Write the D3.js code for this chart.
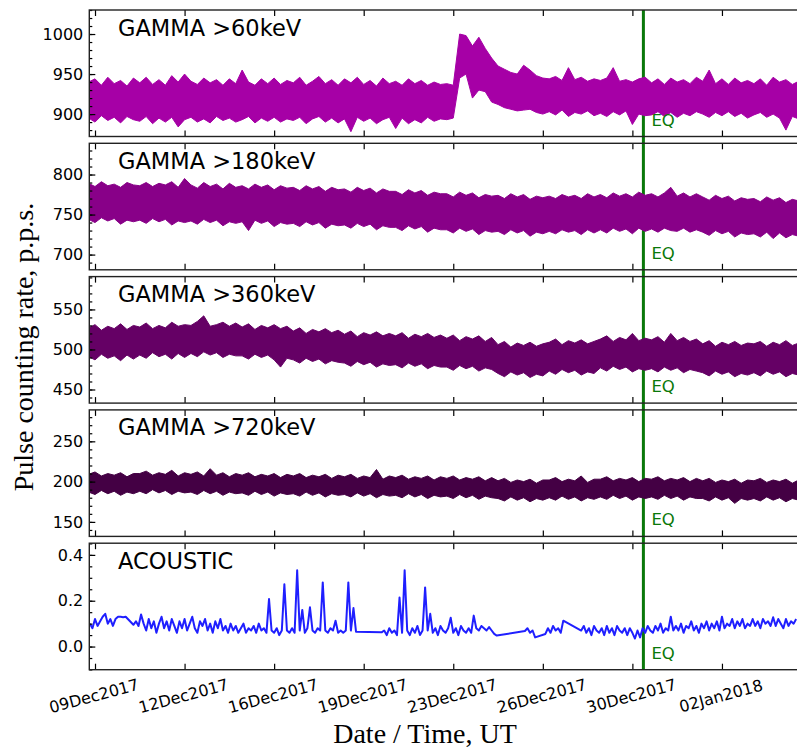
<!DOCTYPE html>
<html>
<head>
<meta charset="utf-8">
<script src="https://cdn.jsdelivr.net/npm/d3@7"></script>
<style>
body { margin: 0; background: #fff; }
svg text { font-family: "DejaVu Sans", sans-serif; }
</style>
</head>
<body>
<script>
const WIDTH = 797, HEIGHT = 751;
const LEFT = 89.3, RIGHT = 800;
const TOP = 10, PANEL_H = 126.5, GAP = 6.8;

// days are counted in December 2017 (1 = 01Dec, 32 = 01Jan2018)
const X_START = 8.777, X_END = 36.55;
const TICK_DAYS = [9, 12.5, 16, 19.5, 23, 26.5, 30, 33.5];
const TICK_LABELS = ['09Dec2017', '12Dec2017', '16Dec2017', '19Dec2017',
                     '23Dec2017', '26Dec2017', '30Dec2017', '02Jan2018'];
const EQ_DAY = 30.43;

// gamma envelopes (upper / lower edge of the band), one value every 6 hours from 08Dec 18:00
const GAMMA_START = 8.75, GAMMA_STEP = 0.25;

const G60_HI = [
  940, 944, 936, 946, 938, 942, 935, 945,
  939, 946, 937, 943, 936, 948, 940, 950,
  941, 937, 945, 939, 943, 936, 944, 938,
  955, 940, 936, 944, 938, 945, 937, 942,
  939, 946, 936, 941, 947, 938, 943, 936,
  944, 939, 946, 937, 942, 935, 945, 938,
  941, 936, 944, 938, 942, 936, 940, 937,
  938, 936, 1000, 998, 985, 996, 982, 970,
  960, 956, 952, 950, 961, 955, 948, 945,
  944, 947, 942, 958, 943, 946, 941, 944,
  942, 945, 958, 941, 943, 940, 944, 946,
  939, 944, 937, 945, 940, 943, 938, 946,
  941, 955, 938, 944, 937, 945, 939, 942,
  938, 944, 936, 946, 940, 943, 937, 941
];
const G60_LO = [
  895, 890, 898, 892, 896, 889, 897, 893,
  891, 897, 888, 895, 890, 896, 884, 893,
  896, 890, 894, 889, 897, 892, 895, 890,
  893, 897, 889, 895, 891, 896, 890, 894,
  892, 896, 888, 894, 897, 890, 895, 889,
  894, 878, 896, 891, 895, 888, 893, 896,
  882, 895, 888, 893, 889, 896, 891, 894,
  893, 895, 945, 950, 920, 930, 928, 915,
  912, 908, 906, 904, 905, 906, 902, 900,
  903, 899, 905, 897, 902, 900, 904, 898,
  901, 897, 903, 899, 904, 887, 900, 898,
  899, 903, 897, 902, 896, 901, 898, 903,
  900, 896, 902, 898, 903, 897, 901, 895,
  899, 902, 896, 900, 895, 880, 897, 894
];

const G180_HI = [
  789, 785, 791, 786, 788, 784, 790, 787,
  786, 790, 785, 789, 787, 791, 784, 795,
  787, 783, 790, 785, 788, 782, 789, 784,
  786, 782, 788, 784, 787, 781, 786, 783,
  784, 780, 786, 782, 785, 779, 784, 781,
  782, 778, 784, 780, 783, 777, 782, 779,
  779, 775, 781, 777, 780, 774, 778, 776,
  776, 772, 778, 774, 777, 771, 775, 773,
  774, 770, 776, 772, 775, 769, 773, 771,
  773, 770, 775, 772, 774, 770, 776, 772,
  775, 771, 777, 773, 776, 772, 778, 774,
  776, 772, 777, 784, 773, 777, 772, 776,
  772, 768, 774, 770, 773, 767, 771, 769,
  770, 766, 772, 768, 771, 765, 769, 767
];
const G180_LO = [
  744, 740, 746, 742, 745, 738, 743, 741,
  743, 739, 745, 741, 744, 737, 742, 740,
  742, 738, 744, 740, 743, 736, 741, 739,
  741, 730, 743, 739, 742, 735, 740, 738,
  739, 735, 741, 737, 740, 733, 738, 736,
  737, 733, 739, 735, 738, 731, 736, 734,
  734, 730, 736, 732, 735, 728, 733, 731,
  731, 727, 733, 729, 732, 725, 730, 728,
  729, 725, 731, 727, 730, 723, 728, 726,
  729, 726, 731, 728, 730, 725, 731, 727,
  731, 727, 733, 729, 732, 726, 733, 729,
  732, 728, 733, 730, 729, 733, 728, 731,
  728, 724, 730, 726, 729, 722, 727, 725,
  726, 722, 728, 720, 727, 721, 725, 723
];

const G360_HI = [
  527, 531, 524, 529, 526, 532, 525, 530,
  528, 533, 526, 530, 527, 534, 529, 531,
  530, 535, 542, 529, 531, 534, 529, 533,
  528, 532, 525, 530, 527, 531, 526, 529,
  523, 527, 520, 525, 522, 526, 521, 524,
  519, 523, 516, 521, 518, 522, 517, 520,
  517, 521, 514, 519, 516, 520, 515, 518,
  514, 518, 511, 516, 513, 517, 510, 515,
  506, 510, 503, 508, 505, 509, 504, 507,
  509, 513, 506, 511, 508, 512, 507, 510,
  513, 517, 510, 515, 512, 520, 511, 514,
  512, 516, 509, 520, 511, 515, 510, 513,
  507, 511, 504, 509, 506, 510, 505, 508,
  507, 510, 504, 509, 506, 511, 505, 508
];
const G360_LO = [
  491, 487, 494, 489, 492, 486, 493, 488,
  493, 489, 496, 491, 494, 488, 495, 490,
  495, 491, 497, 493, 496, 490, 494, 492,
  492, 488, 494, 490, 493, 487, 478, 489,
  487, 483, 489, 485, 488, 482, 486, 484,
  483, 479, 485, 481, 484, 478, 482, 480,
  481, 477, 483, 479, 482, 476, 480, 478,
  478, 474, 480, 476, 479, 473, 477, 475,
  470, 466, 472, 468, 471, 465, 469, 467,
  473, 469, 475, 471, 474, 468, 472, 470,
  477, 473, 479, 475, 478, 472, 476, 474,
  476, 472, 478, 474, 477, 471, 475, 473,
  471, 467, 473, 469, 472, 466, 470, 468,
  471, 467, 473, 469, 472, 466, 470, 468
];

const G720_HI = [
  209, 212, 207, 210, 208, 211, 206, 210,
  210, 213, 208, 211, 209, 214, 207, 211,
  209, 212, 207, 216, 208, 211, 206, 210,
  208, 211, 206, 209, 207, 210, 205, 209,
  207, 210, 205, 208, 206, 209, 204, 208,
  206, 209, 204, 207, 205, 215, 203, 207,
  205, 208, 203, 206, 204, 207, 202, 206,
  204, 207, 202, 205, 203, 206, 201, 205,
  201, 204, 199, 202, 200, 203, 198, 202,
  202, 205, 200, 203, 201, 207, 199, 203,
  203, 206, 201, 204, 202, 205, 200, 204,
  203, 206, 201, 204, 202, 205, 200, 204,
  201, 204, 199, 202, 200, 203, 198, 202,
  201, 204, 199, 202, 200, 203, 198, 202
];
const G720_LO = [
  187, 184, 189, 185, 188, 183, 187, 185,
  188, 185, 190, 186, 189, 184, 188, 186,
  187, 184, 189, 185, 188, 183, 187, 185,
  186, 183, 188, 184, 187, 182, 186, 184,
  185, 182, 187, 183, 186, 181, 185, 183,
  184, 181, 186, 182, 185, 180, 184, 182,
  183, 180, 185, 181, 184, 179, 183, 181,
  182, 179, 184, 180, 183, 178, 182, 180,
  179, 176, 181, 177, 180, 175, 179, 177,
  180, 177, 182, 178, 181, 176, 180, 178,
  181, 178, 183, 179, 182, 177, 181, 179,
  181, 178, 183, 179, 182, 177, 181, 179,
  179, 176, 181, 177, 180, 173, 179, 177,
  179, 176, 181, 177, 180, 175, 179, 177
];

// acoustic signal, one value every 0.1 day from 08Dec 19:12 (null = no data)
const ACOUSTIC_START = 8.8, ACOUSTIC_STEP = 0.1;
const ACOUSTIC = [
  .10, .08, .12, .09, .11, .13, .143, .10, .12, .09,
  .12, .13, .13, .128, .13, null, null, .095, .11, .09,
  .14, .10, .07, .12, .08, .11, .06, .10, .13, .08,
  .11, .07, .12, .09, .06, .11, .08, .12, .07, .10,
  .13, .08, .06, .11, .09, .12, .07, .10, .06, .11,
  .08, .12, .07, .09, .06, .10, .07, .09, .06, .08,
  .10, .06, .08, .07, .09, .06, .10, .07, .08, .06,
  .207, .07, .06, .08, .05, .07, .272, .07, .06, .08,
  .06, .333, .07, .16, .06, .08, .171, .07, .06, .08,
  .07, .28, .07, .06, .08, .07, .113, .06, .07, .06,
  .07, .28, .07, .168, .065, null, null, null, null, null,
  null, null, null, null, .062, .07, .05, .08, .06, .07,
  .05, .214, .06, .333, .07, .05, .08, .06, .09, .05,
  .07, .258, .07, .143, .06, .08, .05, .09, .07, .06,
  .08, .126, .06, .08, .05, .09, .07, .06, .08, .06,
  .135, .08, .07, .09, .08, .07, .085, .07, .055, .048,
  null, null, null, null, null, null, null, null, null, null,
  .068, .08, .06, .07, .04, null, null, null, .055, .08,
  .06, .09, .07, .08, .06, .113, null, null, null, null,
  null, null, .07, .09, .06, .08, .05, .09, .07, .06,
  .08, .05, .09, .06, .08, .05, .09, .07, .06, .08,
  .05, .08, .06, .035, .07, .04, .08, .06, .09, .07,
  .06, .09, .07, .10, .06, .08, .07, .13, .07, .09,
  .07, .10, .06, .09, .08, .11, .07, .09, .06, .10,
  .08, .11, .07, .10, .08, .11, .07, .13, .08, .10,
  .09, .12, .08, .11, .09, .12, .08, .10, .09, .12,
  .09, .11, .08, .12, .10, .11, .09, .128, .09, .12,
  .10, .08, .12, .09, .11, .10, .12
];

const panels = [
  {title: 'GAMMA >60keV',  hi: G60_HI,  lo: G60_LO,  color: '#a600a6', domain: [872, 1030], major: [900, 950, 1000], minor: 10},
  {title: 'GAMMA >180keV', hi: G180_HI, lo: G180_LO, color: '#880088', domain: [681, 839],  major: [700, 750, 800],  minor: 10},
  {title: 'GAMMA >360keV', hi: G360_HI, lo: G360_LO, color: '#650065', domain: [433, 591],  major: [450, 500, 550],  minor: 10},
  {title: 'GAMMA >720keV', hi: G720_HI, lo: G720_LO, color: '#440044', domain: [132, 289],  major: [150, 200, 250],  minor: 10},
  {title: 'ACOUSTIC', values: ACOUSTIC, color: '#1f1fff', domain: [-0.101, 0.451], major: [0, 0.2, 0.4], minor: 0.05, fmt: '.1f'}
];

var dayToDate = function(d){
  return new Date(Date.UTC(2017, 11, 1) + (d - 1) * 864e5);
};

var svg = d3.select('body').append('svg')
  .attr('width', WIDTH).attr('height', HEIGHT);

var x = d3.scaleUtc().domain([dayToDate(X_START), dayToDate(X_END)]).range([LEFT, RIGHT]);
var tickDates = TICK_DAYS.map(dayToDate);
var lastBottom = TOP + (panels.length - 1) * (PANEL_H + GAP) + PANEL_H;

// earthquake marker goes under the data
svg.append('line')
  .attr('x1', x(dayToDate(EQ_DAY))).attr('x2', x(dayToDate(EQ_DAY)))
  .attr('y1', TOP).attr('y2', lastBottom)
  .attr('stroke', '#0a780a').attr('stroke-width', 3);

panels.forEach(function(p, idx){
  var top = TOP + idx * (PANEL_H + GAP);
  var bottom = top + PANEL_H;
  var y = d3.scaleLinear().domain(p.domain).range([bottom, top]);
  var g = svg.append('g');

  svg.append('clipPath').attr('id', 'clip' + idx)
    .append('rect').attr('x', LEFT).attr('y', top)
    .attr('width', RIGHT - LEFT).attr('height', PANEL_H);
  var plot = g.append('g').attr('clip-path', 'url(#clip' + idx + ')');

  if (p.hi) {
    var rows = p.hi.map(function(h, i){
      return {t: dayToDate(GAMMA_START + i * GAMMA_STEP), hi: h, lo: p.lo[i]};
    });
    plot.append('path').datum(rows)
      .attr('d', d3.area().x(function(d){ return x(d.t); })
        .y0(function(d){ return y(d.lo); }).y1(function(d){ return y(d.hi); }))
      .attr('fill', p.color).attr('stroke', p.color).attr('stroke-width', 1);
  } else {
    var pts = p.values.map(function(v, i){
      return {t: dayToDate(ACOUSTIC_START + i * ACOUSTIC_STEP), v: v};
    }).filter(function(d){ return d.v !== null; });
    plot.append('path').datum(pts)
      .attr('d', d3.line().x(function(d){ return x(d.t); }).y(function(d){ return y(d.v); }))
      .attr('fill', 'none').attr('stroke', p.color).attr('stroke-width', 2)
      .attr('stroke-linejoin', 'round');
  }

  // y axis: major ticks with labels, minor ticks without, all pointing inward
  var yAxis = d3.axisLeft(y).tickValues(p.major).tickSizeInner(-6).tickSizeOuter(0).tickPadding(6)
    .tickFormat(p.fmt ? d3.format(p.fmt) : d3.format('d'));
  var ya = g.append('g').attr('transform', 'translate(' + LEFT + ',0)').call(yAxis);
  ya.select('.domain').remove();
  ya.selectAll('text').attr('font-size', 16).attr('font-family', '"DejaVu Sans", sans-serif').attr('fill', '#000');

  var minorVals = d3.range(Math.ceil(p.domain[0] / p.minor), Math.floor(p.domain[1] / p.minor) + 1)
    .map(function(k){ return +(k * p.minor).toFixed(4); });
  var ym = g.append('g').attr('transform', 'translate(' + LEFT + ',0)')
    .call(d3.axisLeft(y).tickValues(minorVals).tickSizeInner(-3).tickSizeOuter(0).tickFormat(''));
  ym.select('.domain').remove();

  // x ticks on top and bottom, inward
  var xt = g.append('g').attr('transform', 'translate(0,' + top + ')')
    .call(d3.axisTop(x).tickValues(tickDates).tickSizeInner(-6).tickSizeOuter(0).tickFormat(''));
  xt.select('.domain').remove();
  var xb = g.append('g').attr('transform', 'translate(0,' + bottom + ')')
    .call(d3.axisBottom(x).tickValues(tickDates).tickSizeInner(-6).tickSizeOuter(0).tickFormat(''));
  xb.select('.domain').remove();
  g.selectAll('.tick line').attr('stroke', '#000').attr('stroke-width', 1.2);

  g.append('rect')
    .attr('x', LEFT).attr('y', top).attr('width', RIGHT - LEFT).attr('height', PANEL_H)
    .attr('fill', 'none').attr('stroke', '#222').attr('stroke-width', 1.4);

  g.append('text').attr('x', 118).attr('y', top + 25.5)
    .attr('font-size', 22.5).attr('fill', '#000').text(p.title);

  g.append('text').attr('x', x(dayToDate(EQ_DAY)) + 8).attr('y', top + 115.5)
    .attr('font-size', 16.5).attr('fill', '#0a780a').text('EQ');
});

// date labels under the last panel
svg.append('g').selectAll('text')
  .data(TICK_LABELS)
  .enter()
  .append('text')
  .attr('transform', function(d, i){ return 'translate(' + (x(tickDates[i]) - 1) + ',696) rotate(-15)'; })
  .attr('text-anchor', 'middle')
  .attr('dominant-baseline', 'central')
  .attr('font-size', 16)
  .attr('fill', '#000')
  .text(function(d){ return d; });

svg.append('text')
  .attr('transform', 'translate(33,347) rotate(-90)')
  .attr('text-anchor', 'middle')
  .style('font-family', '"Liberation Serif", "Times New Roman", serif')
  .attr('font-size', 28)
  .text('Pulse counting rate, p.p.s.');

svg.append('text')
  .attr('x', 425).attr('y', 743)
  .attr('text-anchor', 'middle')
  .style('font-family', '"Liberation Serif", "Times New Roman", serif')
  .attr('font-size', 28)
  .text('Date / Time, UT');
</script>
</body>
</html>
